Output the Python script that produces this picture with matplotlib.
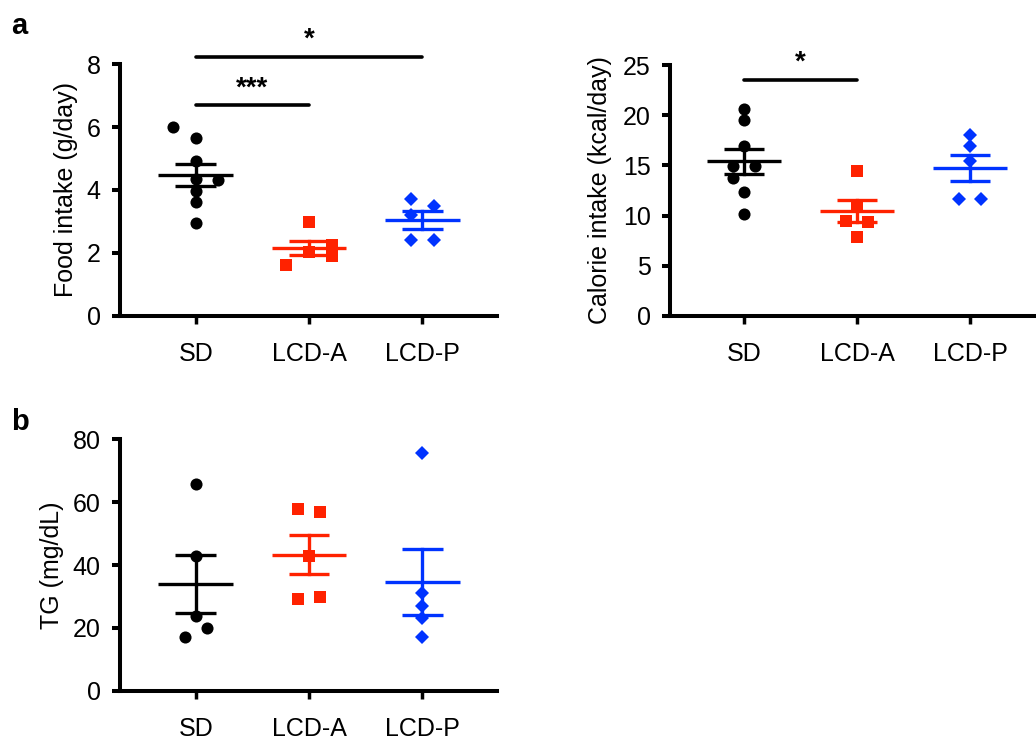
import numpy as np
import matplotlib.pyplot as plt

plt.rcParams['font.family'] = ['Liberation Sans', 'DejaVu Sans']

groups = ['SD', 'LCD-A', 'LCD-P']
colors = ['#000000', '#ff2200', '#0033ff']
markers = ['o', 's', 'D']

# food intake (g/day)
food_sd = [6.01, 5.66, 4.93, 4.34, 4.32, 3.98, 3.61, 2.96]
food_sd_jit = [-0.2, 0, 0, 0, 0.2, 0, 0, 0]
food_a = [2.99, 2.04, 2.25, 1.90, 1.62]
food_a_jit = [0, 0, 0.2, 0.2, -0.2]
food_p = [3.71, 3.50, 3.21, 2.41, 2.41]
food_p_jit = [-0.1, 0.1, -0.1, -0.1, 0.1]

# calorie intake (kcal/day)
cal_sd = [20.6, 19.5, 16.9, 14.9, 14.9, 13.8, 12.4, 10.2]
cal_sd_jit = [0, 0, 0, -0.1, 0.1, -0.1, 0, 0]
cal_a = [14.4, 11.0, 9.5, 9.4, 7.9]
cal_a_jit = [0, 0, -0.1, 0.1, 0]
cal_p = [18.0, 16.9, 15.4, 11.7, 11.7]
cal_p_jit = [0, 0, 0, -0.1, 0.1]

# TG (mg/dL)
tg_sd = [65.9, 43.0, 23.8, 20.0, 17.0]
tg_sd_jit = [0, 0, 0, 0.1, -0.1]
tg_a = [57.9, 56.9, 43.0, 29.1, 29.7]
tg_a_jit = [-0.1, 0.1, 0, -0.1, 0.1]
tg_p = [75.7, 31.0, 27.0, 23.0, 17.0]
tg_p_jit = [0, 0, 0, 0, 0]


def scatter_panel(ax, data, jits, ylim, yticks, ylabel, xr):
    for i, (vals, jit) in enumerate(zip(data, jits)):
        vals = np.array(vals)
        xs = i + np.array(jit)
        ax.plot(xs, vals, linestyle='none', marker=markers[i], color=colors[i],
                ms=8.7 if markers[i] == 'o' else (8.2 if markers[i] == 's' else 6.7),
                mew=0, clip_on=False, zorder=3)
        m = vals.mean()
        sem = vals.std(ddof=1) / np.sqrt(len(vals))
        ax.plot([i - 0.33, i + 0.33], [m, m], color=colors[i], lw=2.4, zorder=4,
                solid_capstyle='butt')
        ax.plot([i, i], [m - sem, m + sem], color=colors[i], lw=2.4, zorder=4)
        for v in (m - sem, m + sem):
            ax.plot([i - 0.18, i + 0.18], [v, v], color=colors[i], lw=2.4, zorder=4,
                    solid_capstyle='butt')
    ax.set_xlim(*xr)
    ax.set_ylim(*ylim)
    ax.set_yticks(yticks)
    ax.set_xticks(range(3))
    ax.set_xticklabels(groups)
    ax.spines['top'].set_visible(False)
    ax.spines['right'].set_visible(False)
    ax.spines['left'].set_linewidth(2.9)
    ax.spines['bottom'].set_linewidth(2.9)
    ax.tick_params(axis='y', length=6, width=2.9, labelsize=18, pad=8)
    ax.tick_params(axis='x', length=6, width=2.5, labelsize=18, pad=13)
    ax.set_ylabel(ylabel, fontsize=18)


def sig_bar(ax, x0, x1, y, ytxt, txt):
    ax.plot([x0, x1], [y, y], color='black', lw=2.6, clip_on=False,
            solid_capstyle='round')
    ax.text((x0 + x1) / 2, ytxt, txt, ha='center', va='center', fontsize=20,
            fontweight='bold', clip_on=False)


fig = plt.figure(figsize=(10.36, 7.4), dpi=100)

ax1 = fig.add_axes([0.1158, 0.573, 0.364, 0.3405])
scatter_panel(ax1, [food_sd, food_a, food_p], [food_sd_jit, food_a_jit, food_p_jit],
              (0, 8), [0, 2, 4, 6, 8], 'Food intake (g/day)', (-0.67, 2.66))
ax1.yaxis.set_label_coords(-0.111, 0.5)
sig_bar(ax1, 0, 1, 6.71, 7.22, '***')
sig_bar(ax1, 0, 2, 8.23, 8.78, '*')

ax2 = fig.add_axes([0.6467, 0.573, 0.3523, 0.339])
scatter_panel(ax2, [cal_sd, cal_a, cal_p], [cal_sd_jit, cal_a_jit, cal_p_jit],
              (0, 25), [0, 5, 10, 15, 20, 25], 'Calorie intake (kcal/day)', (-0.655, 2.575))
ax2.yaxis.set_label_coords(-0.16, 0.5)
sig_bar(ax2, 0, 1, 23.5, 25.2, '*')

ax3 = fig.add_axes([0.1158, 0.0666, 0.364, 0.3397])
scatter_panel(ax3, [tg_sd, tg_a, tg_p], [tg_sd_jit, tg_a_jit, tg_p_jit],
              (0, 80), [0, 20, 40, 60, 80], 'TG (mg/dL)', (-0.67, 2.66))
ax3.yaxis.set_label_coords(-0.149, 0.5)

fig.text(0.011, 0.965, 'a', fontsize=21, fontweight='bold', va='center')
fig.text(0.011, 0.43, 'b', fontsize=21, fontweight='bold', va='center')

fig.savefig('out.png', dpi=100)
